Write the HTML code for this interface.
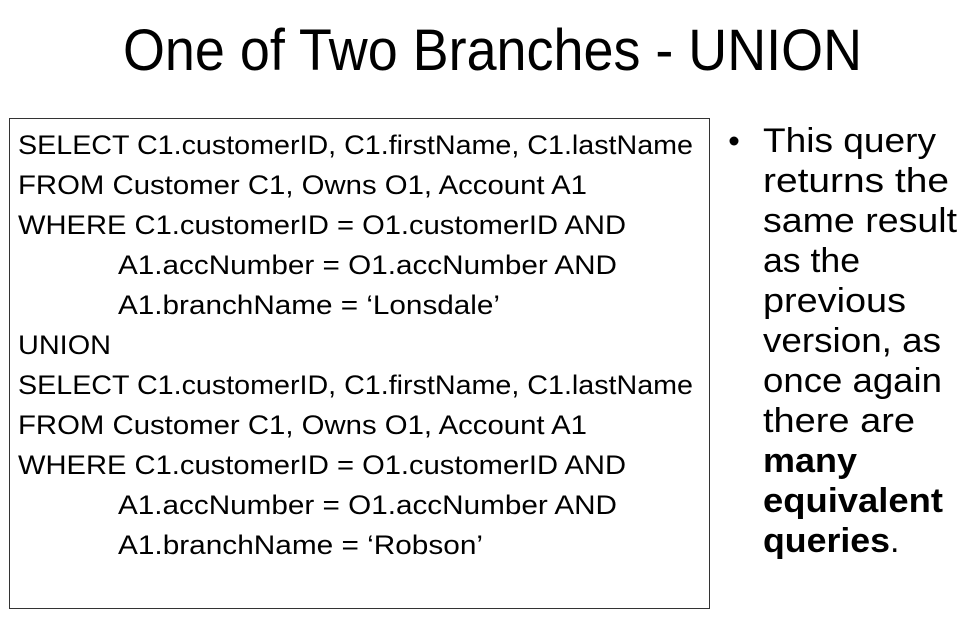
<!DOCTYPE html>
<html><head><meta charset="utf-8"><style>
html,body{margin:0;padding:0;background:#fff;}
svg{display:block;}
text{font-family:"Liberation Sans",sans-serif;fill:#000;}
</style></head><body>
<svg width="973" height="641" viewBox="0 0 973 641" xmlns="http://www.w3.org/2000/svg">
<rect width="973" height="641" fill="#fff"/>
<text x="123" y="70" font-size="58" textLength="739" lengthAdjust="spacingAndGlyphs">One of Two Branches - UNION</text>
<rect x="9.5" y="118.5" width="700" height="490" fill="none" stroke="#333" stroke-width="1"/>
<g font-size="27">
<text x="18" y="154" textLength="675" lengthAdjust="spacingAndGlyphs">SELECT C1.customerID, C1.firstName, C1.lastName</text>
<text x="18" y="194" textLength="569" lengthAdjust="spacingAndGlyphs">FROM Customer C1, Owns O1, Account A1</text>
<text x="18" y="234" textLength="608" lengthAdjust="spacingAndGlyphs">WHERE C1.customerID = O1.customerID AND</text>
<text x="118" y="274" textLength="499" lengthAdjust="spacingAndGlyphs">A1.accNumber = O1.accNumber AND</text>
<text x="118" y="314" textLength="382" lengthAdjust="spacingAndGlyphs">A1.branchName = ‘Lonsdale’</text>
<text x="18" y="354" textLength="93" lengthAdjust="spacingAndGlyphs">UNION</text>
<text x="18" y="394" textLength="675" lengthAdjust="spacingAndGlyphs">SELECT C1.customerID, C1.firstName, C1.lastName</text>
<text x="18" y="434" textLength="569" lengthAdjust="spacingAndGlyphs">FROM Customer C1, Owns O1, Account A1</text>
<text x="18" y="474" textLength="608" lengthAdjust="spacingAndGlyphs">WHERE C1.customerID = O1.customerID AND</text>
<text x="118" y="514" textLength="499" lengthAdjust="spacingAndGlyphs">A1.accNumber = O1.accNumber AND</text>
<text x="118" y="554" textLength="365" lengthAdjust="spacingAndGlyphs">A1.branchName = ‘Robson’</text>
</g>
<circle cx="734" cy="141" r="4.5" fill="#000"/>
<g font-size="34">
<text x="763" y="152" textLength="173" lengthAdjust="spacingAndGlyphs">This query</text>
<text x="763" y="192" textLength="186" lengthAdjust="spacingAndGlyphs">returns the</text>
<text x="763" y="232" textLength="194" lengthAdjust="spacingAndGlyphs">same result</text>
<text x="763" y="272" textLength="97" lengthAdjust="spacingAndGlyphs">as the</text>
<text x="763" y="312" textLength="143" lengthAdjust="spacingAndGlyphs">previous</text>
<text x="763" y="352" textLength="178" lengthAdjust="spacingAndGlyphs">version, as</text>
<text x="763" y="392" textLength="179" lengthAdjust="spacingAndGlyphs">once again</text>
<text x="763" y="432" textLength="152" lengthAdjust="spacingAndGlyphs">there are</text>
<text x="763" y="472" font-weight="bold" textLength="94" lengthAdjust="spacingAndGlyphs">many</text>
<text x="763" y="512" font-weight="bold" textLength="180" lengthAdjust="spacingAndGlyphs">equivalent</text>
<text x="763" y="552" font-weight="bold" textLength="127" lengthAdjust="spacingAndGlyphs">queries</text>
<text x="890" y="552">.</text>
</g>
</svg>
</body></html>
